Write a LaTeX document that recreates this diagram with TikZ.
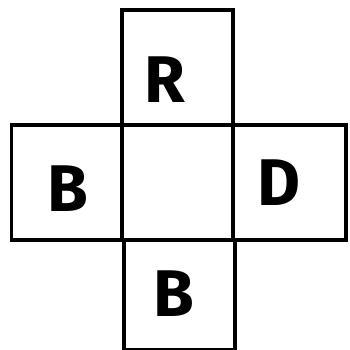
\documentclass[tikz,border=0pt]{standalone}
\usepackage{fontspec}
\setmainfont{Fira Sans}
\begin{document}
\begin{tikzpicture}[x=1pt,y=-1pt,
  cell/.style={draw=black,line width=3.2pt,minimum width=111pt,minimum height=115pt,inner sep=0pt,outer sep=0pt},
  letter/.style={font=\fontsize{66}{66}\selectfont\bfseries,inner sep=0pt}]
\useasboundingbox (0,0) rectangle (349,350);
\node[cell] (top) at (177.5,67.5) {};
\node[cell] (left) at (67,182.5) {};
\node[cell] (mid) at (177.5,182.5) {};
\node[cell,minimum width=113pt] (right) at (289.5,182.5) {};
\node[cell,minimum height=110pt] (bot) at (179.5,295) {};
\node[letter] (r) at (165,80) {R};
\node[letter] (b1) at (68,189) {B};
\node[letter] (d) at (279,183) {D};
\node[letter] (b2) at (174,294) {B};
\end{tikzpicture}
\end{document}
